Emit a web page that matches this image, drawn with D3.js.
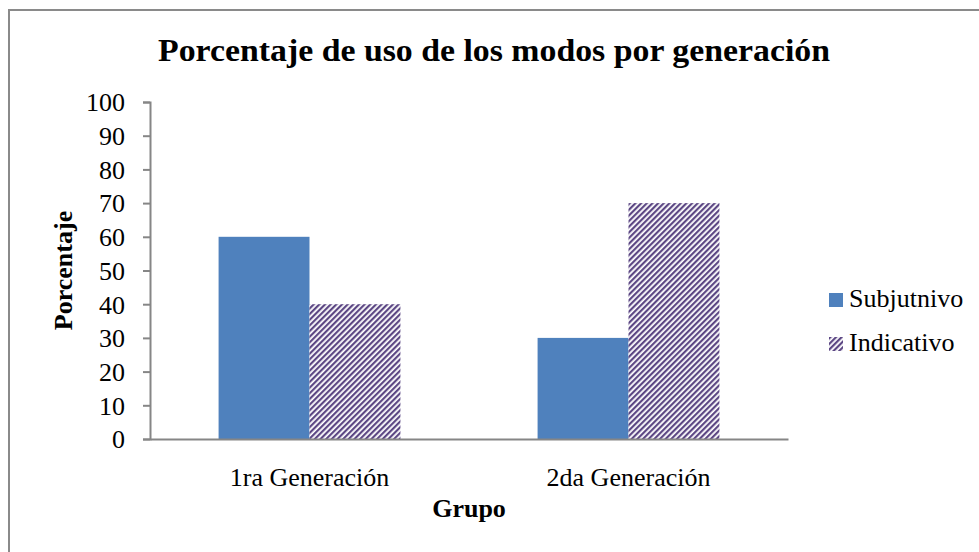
<!DOCTYPE html>
<html>
<head>
<meta charset="utf-8">
<script src="https://cdn.jsdelivr.net/npm/d3@7"></script>
<style>
  body { margin: 0; background: #fff; }
  svg { display: block; }
  svg text { font-family: "Liberation Serif", "DejaVu Serif", serif; }
</style>
</head>
<body>
<div id="chart"></div>
<script>
// data
var groups = ["1ra Generación", "2da Generación"];
var seriesNames = ["Subjutnivo", "Indicativo"];
var subjuntivo = [60, 30];
var indicativo = [40, 70];
var yTicks = [0, 10, 20, 30, 40, 50, 60, 70, 80, 90, 100];

var width = 979, height = 552;
var margin = { left: 150, right: 191, top: 102, bottom: 113 };

var svg = d3.select("#chart")
  .append("svg")
  .attr("width", width).attr("height", height);

// hatched fill for the second series
var defs = svg.append("defs");
defs.append("pattern")
  .attr("id", "hatch")
  .attr("patternUnits", "userSpaceOnUse")
  .attr("width", 4).attr("height", 4)
  .attr("patternTransform", "rotate(45)")
  .call(function (p) {
    p.append("rect").attr("width", 4).attr("height", 4).attr("fill", "#ffffff");
    p.append("rect").attr("width", 2.2).attr("height", 4).attr("fill", "#5c4784");
  });

// outer frame (runs off the right and bottom edges)
svg.append("rect")
  .attr("x", 9).attr("y", 10)
  .attr("width", 1000).attr("height", 600)
  .attr("fill", "none")
  .attr("stroke", "#8a8a8a")
  .attr("stroke-width", 2);

var x0 = d3.scaleBand()
  .domain(groups)
  .range([margin.left, width - margin.right])
  .paddingInner(0)
  .paddingOuter(0);

var barW = x0.bandwidth() * 0.285;

var y = d3.scaleLinear()
  .domain([0, 100])
  .range([height - margin.bottom, margin.top]);

// y axis
var yAxis = svg.append("g")
  .attr("transform", "translate(" + margin.left + ",0)")
  .call(d3.axisLeft(y).tickValues(yTicks).tickSize(7).tickPadding(18));
yAxis.attr("font-family", null).attr("font-size", null);
yAxis.select(".domain").attr("stroke", "#868686").attr("stroke-width", 2);
yAxis.selectAll(".tick line").attr("stroke", "#868686").attr("stroke-width", 2);
yAxis.selectAll(".tick text")
  .attr("fill", "#000")
  .style("font-size", "26px")
  .attr("dy", "0.34em");

// bars
var data = groups.map(function (g, i) {
  return { group: g, values: [subjuntivo[i], indicativo[i]] };
});

var gGroups = svg.selectAll(".grp")
  .data(data)
  .enter().append("g")
  .attr("class", "grp");

gGroups.selectAll("rect")
  .data(function (d) {
    return d.values.map(function (v, k) { return { group: d.group, k: k, v: v }; });
  })
  .enter().append("rect")
  .attr("x", function (d) {
    var c = x0(d.group) + x0.bandwidth() / 2;
    return d.k === 0 ? c - barW : c;
  })
  .attr("y", function (d) { return y(d.v); })
  .attr("width", barW)
  .attr("height", function (d) { return y(0) - y(d.v); })
  .attr("fill", function (d) { return d.k === 0 ? "#4f81bd" : "url(#hatch)"; });

// x axis
var xAxis = svg.append("g")
  .attr("transform", "translate(0," + y(0) + ")")
  .call(d3.axisBottom(x0).tickSize(0).tickPadding(29));
xAxis.attr("font-family", null).attr("font-size", null);
xAxis.select(".domain").attr("stroke", "#868686").attr("stroke-width", 2);
xAxis.selectAll(".tick text")
  .attr("fill", "#000")
  .style("font-size", "26px");

// title
svg.append("text")
  .attr("x", 494).attr("y", 61)
  .attr("text-anchor", "middle")
  .attr("textLength", 672)
  .attr("lengthAdjust", "spacingAndGlyphs")
  .style("font-weight", "bold")
  .style("font-size", "31px")
  .text("Porcentaje de uso de los modos por generación");

// axis titles
svg.append("text")
  .attr("x", (margin.left + width - margin.right) / 2)
  .attr("y", 517)
  .attr("text-anchor", "middle")
  .style("font-weight", "bold")
  .style("font-size", "26px")
  .text("Grupo");

svg.append("text")
  .attr("transform", "translate(72," + y(50) + ") rotate(-90)")
  .attr("text-anchor", "middle")
  .style("font-weight", "bold")
  .style("font-size", "26px")
  .text("Porcentaje");

// legend
var legend = svg.selectAll(".leg")
  .data(seriesNames)
  .enter().append("g")
  .attr("class", "leg")
  .attr("transform", function (d, i) { return "translate(829," + (293 + i * 44) + ")"; });

legend.append("rect")
  .attr("width", 14).attr("height", 14)
  .attr("fill", function (d, i) { return i === 0 ? "#4f81bd" : "url(#hatch)"; });

legend.append("text")
  .attr("x", 20).attr("y", 14)
  .style("font-size", "26px")
  .text(function (d) { return d; });
</script>
</body>
</html>
